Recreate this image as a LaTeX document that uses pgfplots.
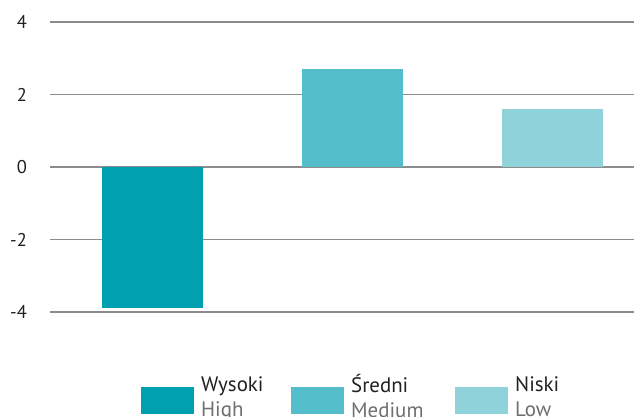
\documentclass[border=0pt]{standalone}
\usepackage{pgfplots}
\pgfplotsset{compat=1.18}
\usepackage{fontspec}
\setmainfont{PT Sans}
\definecolor{cHigh}{RGB}{0,160,176}
\definecolor{cMed}{RGB}{83,190,201}
\definecolor{cLow}{RGB}{144,210,218}
\definecolor{gridc}{RGB}{140,140,140}
\definecolor{txt}{RGB}{35,31,32}
\definecolor{txtgray}{RGB}{109,110,113}
\newcommand{\lgd}[3]{\makebox[#1][l]{\fontsize{21}{25}\selectfont\begin{tabular}{@{}l@{}}\color{txt}#2\\\color{txtgray}#3\end{tabular}}}
\begin{document}
\begin{tikzpicture}
\begin{axis}[
  scale only axis,
  width=584bp, height=290bp,
  xmin=-0.5125, xmax=2.4075,
  ymin=-4, ymax=4,
  axis line style={draw=none},
  ytick={-4,-2,0,2,4},
  yticklabels={-4,-2,0,2,4},
  xtick=\empty,
  ymajorgrids,
  grid style={gridc, line width=1.1bp},
  major tick length=0pt,
  yticklabel style={font=\fontsize{18.5}{20}\selectfont, text=txt, inner sep=0pt, anchor=east, xshift=-23bp},
  clip=false,
  ybar, bar width=101bp,
  every axis plot/.append style={bar shift=0pt, draw=none},
  legend image code/.code={\fill[#1] (0bp,-23.6bp) rectangle (53bp,3.4bp);},
  legend columns=3,
  legend style={draw=none, fill=none, inner sep=0pt, row sep=0pt,
    at={(rel axis cs:0.1558,0)}, anchor=north west, yshift=-62bp,
    nodes={inner sep=0pt},
    /tikz/every odd column/.append style={column sep=7bp}},
]
\addplot[fill=cHigh] coordinates {(0,-3.9)};
\addlegendentry{\lgd{90bp}{Wysoki}{High}}
\addplot[fill=cMed] coordinates {(1,2.7)};
\addlegendentry{\lgd{104bp}{Średni}{Medium}}
\addplot[fill=cLow] coordinates {(2,1.6)};
\addlegendentry{\lgd{60bp}{Niski}{Low}}
\coordinate (bl) at (rel axis cs:0,0);
\coordinate (tr) at (rel axis cs:1,1);
\end{axis}
\pgfresetboundingbox
\path[use as bounding box] ([shift={(-50bp,-105bp)}]bl) rectangle ([shift={(0bp,22bp)}]tr);
\end{tikzpicture}
\end{document}
